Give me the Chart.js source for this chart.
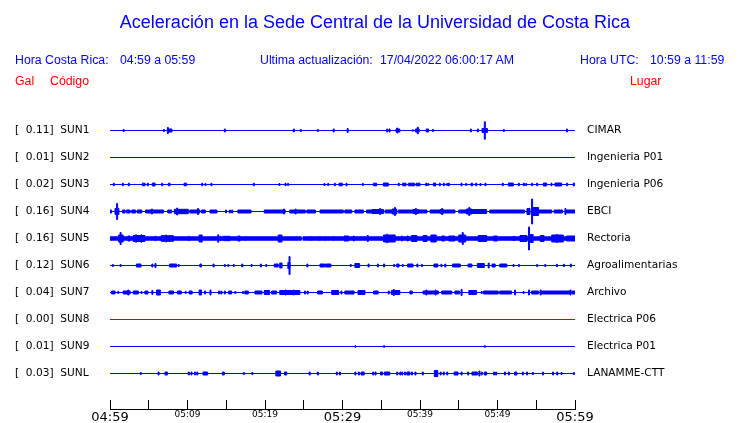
<!DOCTYPE html>
<html>
<head>
<meta charset="utf-8">
<script src="https://cdn.jsdelivr.net/npm/chart.js@4.4.0/dist/chart.umd.min.js"></script>
<style>
    body { margin: 0; background: #ffffff; }
    #wrap { position: relative; width: 740px; height: 423px; font-family: 'Liberation Sans', Arial, sans-serif; }
    #wrap canvas { position: absolute; left: 0; top: 0; }
    .t { position: absolute; white-space: pre; font-size: 12.3px; line-height: 14px; color: #0000ff; }
    .red { color: #ff0000; }
    #title { position: absolute; left: 5px; width: 740px; top: 12px; text-align: center; font-size: 18px; line-height: 20px; color: #0000ff; }
</style>
</head>
<body>
<div id="wrap">
    <canvas id="myChart" width="740" height="423"></canvas>
    <div id="title">Aceleración en la Sede Central de la Universidad de Costa Rica</div>
    <div class="t" style="left:15px;top:53px">Hora Costa Rica:</div>
    <div class="t" style="left:120px;top:53px">04:59 a 05:59</div>
    <div class="t" style="left:260px;top:53px">Ultima actualización:</div>
    <div class="t" style="left:380px;top:53px">17/04/2022 06:00:17 AM</div>
    <div class="t" style="left:580px;top:53px">Hora UTC:</div>
    <div class="t" style="left:650px;top:53px">10:59 a 11:59</div>
    <div class="t red" style="left:15px;top:74px">Gal</div>
    <div class="t red" style="left:50px;top:74px">Código</div>
    <div class="t red" style="left:630px;top:74px">Lugar</div>
</div>
<script>
const codes = ['SUN1', 'SUN2', 'SUN3', 'SUN4', 'SUN5', 'SUN6', 'SUN7', 'SUN8', 'SUN9', 'SUNL'];
const peaks = [0.11, 0.01, 0.02, 0.16, 0.16, 0.12, 0.04, 0.00, 0.01, 0.03];
const places = ['CIMAR', 'Ingenieria P01', 'Ingenieria P06', 'EBCI', 'Rectoria',
    'Agroalimentarias', 'Archivo', 'Electrica P06', 'Electrica P01', 'LANAMME-CTT'];
const timeLabels = ['04:59', '05:09', '05:19', '05:29', '05:39', '05:49', '05:59'];

// bursts per station: [minute, amplitude] for a single spike,
// [start minute, end minute, amplitude] for a longer burst
const sun1 = [[1.7, 1], [6.9, 1], [7.4, 3], [7.5, 8.0, 1.5], [14.75, 1.5], [23.65, 1.5], [24.56, 1],
    [26.75, 1], [28.8, 1.5], [30.6, 2], [35.7, 1.5], [36.0, 1.5], [36.9, 37.4, 1.5], [37.0, 2.5],
    [39.0, 0.7], [39.4, 39.9, 1.5], [39.65, 3.3], [40.8, 41.1, 1.5], [41.6, 1], [46.5, 1.5],
    [47.4, 1.5], [48.0, 48.7, 2], [48.3, 8.7], [50.75, 1], [58.9, 1.5]];
const sun2 = [];
const sun3 = [[0.43, 1.3], [1.59, 1.3], [2.37, 1.3], [4.17, 4.52, 1.3], [4.82, 1.3], [5.46, 5.81, 1.5],
    [6.67, 1.3], [7.53, 7.74, 1.3], [9.55, 9.89, 1.3], [11.83, 1.3], [12.26, 1], [13.03, 1.3],
    [18.49, 1.3], [21.81, 1], [22.58, 1.3], [22.92, 1], [27.61, 1], [28.09, 1], [28.95, 1.3],
    [29.55, 29.98, 1.3], [30.45, 1.3], [32.56, 1], [33.98, 34.41, 1.3], [35.27, 35.91, 1.5],
    [37.2, 1.3], [37.76, 38.2, 1.3], [38.5, 39.3, 1.3], [39.5, 40.0, 1.3], [40.73, 1.3], [40.99, 1],
    [41.72, 42.02, 1.5], [42.49, 1.3], [43.01, 1.3], [43.44, 1], [43.66, 1.3], [45.29, 1.3],
    [45.89, 1], [46.58, 46.8, 1.3], [47.18, 1.3], [47.74, 1], [48.39, 1.3], [50.62, 1.3],
    [51.4, 52.04, 1.5], [52.69, 1.3], [53.33, 1.3], [53.63, 1], [54.41, 1.3], [55.05, 1.3],
    [55.91, 56.34, 1.5], [56.9, 1.3], [57.42, 58.28, 1.5], [58.92, 1.3], [59.78, 1.5]];
const sun4 = [[0, 0.2, 1.5], [0.65, 1.15, 3], [0.85, 8], [1.6, 1.95, 1.5], [2.1, 2.6, 1.5],
    [2.8, 3.3, 1.5], [3.5, 4.1, 1.5], [4.6, 5.3, 1.5], [5.35, 2.5], [5.5, 6.9, 1.5], [7.45, 7.95, 1.5],
    [8.3, 10.1, 2.2], [8.6, 3.5], [10.3, 11.6, 1.5], [11.3, 3], [11.8, 12.3, 1.5], [12.9, 13.8, 1.5],
    [14.9, 1.5], [15.4, 1.5], [15.7, 1.5], [16.5, 18.2, 1.5], [19.9, 22.6, 1.5], [22.4, 2.5],
    [23.2, 25.2, 1.5], [23.9, 2.5], [25.4, 26.5, 1.5], [27.1, 30.1, 1.5], [30.3, 31.2, 1.5],
    [31.6, 32.7, 1.5], [33.1, 33.8, 1.5], [33.8, 35.3, 2], [34.8, 3], [35.5, 36.4, 1.5],
    [36.4, 37.0, 2.5], [36.7, 4], [37.2, 39.1, 1.5], [39.1, 39.8, 2], [39.4, 3], [39.8, 40.9, 1.5],
    [41.3, 42.6, 1.5], [42.6, 43.0, 2], [42.8, 3], [43.0, 44.5, 1.5], [45.0, 46.0, 1.5],
    [46.0, 46.7, 2.5], [46.3, 4], [46.7, 48.6, 2], [49.0, 53.5, 1.5], [53.8, 54.2, 3], [54.4, 12.5],
    [54.5, 55.3, 4], [55.3, 57.0, 1.5], [57.3, 58.4, 1.5], [58.7, 3], [58.9, 60, 1.5]];
const sun5 = [[0, 24.7, 1.7], [24.9, 60, 1.7], [1.1, 1.7, 3.5], [1.3, 6], [2.3, 2.6, 2.5], [3.0, 4.5, 3],
    [3.3, 3.7], [4.0, 3.7], [5.8, 2.2], [6.6, 8.2, 2.8], [7.2, 3.5], [10.1, 2.2], [11.5, 11.9, 3.5],
    [13.9, 3.7], [14.2, 2.2], [14.6, 15.5, 2.2], [16.5, 16.8, 2.5], [17.4, 2], [21.7, 22.2, 3.5],
    [25.8, 2], [26.9, 2], [27.7, 2], [28.8, 2], [30.2, 30.8, 2.5], [31.4, 2.5], [33.2, 3],
    [35.3, 36.8, 3.5], [35.7, 4.3], [37.6, 2.5], [38.3, 38.5, 2.5], [38.9, 39.6, 3], [40.4, 40.9, 3],
    [41.4, 42.1, 3.5], [42.8, 43.2, 2.5], [43.7, 44.5, 2.5], [45.0, 45.9, 3.5], [45.45, 6],
    [47.5, 48.6, 3], [49.5, 50.0, 2.5], [52.0, 52.3, 2], [52.9, 53.8, 3], [54.0, 11.5],
    [54.2, 54.6, 4], [55.5, 56.0, 3], [57.0, 58.5, 3.5], [57.6, 4], [58.9, 60, 2.5]];
const sun6 = [[0.3, 1], [1.3, 1], [3.4, 4.0, 1.5], [5.4, 1.5], [5.8, 2], [7.7, 8.6, 1.5], [8.8, 1],
    [11.6, 11.8, 1.5], [13.3, 1.5], [14.75, 1], [15.2, 1], [15.9, 1], [17.0, 1.5], [18.2, 1],
    [19.4, 1.5], [20.1, 1], [21.2, 21.7, 1.5], [21.9, 22.2, 2.5], [22.95, 23.25, 3], [23.1, 9],
    [25.4, 1.5], [27.1, 27.7, 1.5], [27.8, 28.5, 1.5], [31.0, 1], [31.6, 32.2, 2], [33.3, 1.5],
    [34.5, 1.5], [35.3, 1.5], [36.6, 1], [37.0, 37.3, 1.5], [37.7, 1], [38.4, 39.1, 1.5], [39.6, 1.5],
    [40.2, 1], [41.8, 42.3, 1.5], [42.7, 1.2], [43.2, 1.5], [44.2, 45.2, 1.5], [46.2, 46.7, 1.5],
    [47.4, 48.3, 2], [48.8, 2.5], [49.3, 49.7, 1.5], [50.3, 51.2, 1.5], [52.0, 1], [52.7, 1],
    [55.05, 1], [56.1, 1], [57.6, 1.2], [58.5, 1.2], [59.4, 1.5]];
const sun7 = [[0.2, 0.65, 1.5], [1.0, 1], [1.7, 2.6, 1.5], [2.3, 2.5], [3.0, 3.65, 1.5], [4.0, 1],
    [4.5, 4.9, 1.5], [5.4, 2], [6.0, 6.5, 2.5], [7.6, 8.2, 1.5], [8.7, 9.2, 1.5], [9.7, 1],
    [10.2, 10.6, 1.5], [11.5, 11.8, 2.5], [12.2, 1.5], [12.9, 2.5], [14.0, 1.5], [14.3, 1.5],
    [14.75, 1.5], [15.3, 15.7, 1.5], [16.1, 1], [17.1, 1], [17.4, 17.85, 1.5], [18.7, 19.6, 1.5],
    [19.9, 20.6, 2], [20.85, 21.5, 1.5], [21.9, 24.5, 2], [22.6, 2.5], [23.65, 2.5], [25.1, 1.5],
    [25.45, 1.5], [26.8, 27.4, 1.5], [28.6, 29.5, 2], [29.8, 1.5], [30.3, 31.5, 1.5], [32.0, 32.9, 2],
    [34.0, 34.6, 1.5], [35.9, 1.5], [36.3, 37.4, 2], [36.55, 3], [38.7, 39.0, 1.5], [40.4, 42.4, 1.5],
    [40.75, 2.5], [41.95, 2.5], [42.8, 44.1, 1.5], [44.5, 45.1, 1.5], [45.3, 3], [46.3, 47.3, 2],
    [47.9, 1], [48.2, 50.1, 1.5], [50.3, 51.8, 1.5], [52.2, 2.5], [53.3, 1], [54.0, 2.5],
    [54.4, 55.3, 1.5], [55.5, 2.5], [55.7, 59.4, 1.5], [59.35, 2.5], [59.6, 60, 1.5]];
const sun8 = [];
const sun9 = [[31.6, 0.8], [35.3, 0.8], [48.3, 0.8]];
const sunl = [[3.9, 1], [6.2, 1.5], [7.1, 7.4, 1.5], [10.1, 1.5], [10.45, 1.5], [10.9, 1.5], [11.2, 1.5],
    [12.0, 12.6, 1.5], [14.5, 14.75, 1.5], [17.2, 1], [18.3, 1], [21.4, 22.0, 2.5], [22.5, 22.8, 1.5],
    [25.7, 1.5], [26.75, 1.5], [29.2, 1.5], [29.6, 1.5], [31.6, 1.5], [32.05, 1.5], [32.4, 32.8, 1.5],
    [33.9, 1.5], [34.2, 1.5], [34.9, 35.15, 1.5], [35.4, 36.1, 1.5], [37.0, 1.5], [37.4, 1.5],
    [37.65, 1.5], [38.0, 1.5], [38.3, 38.7, 1.5], [38.9, 1.5], [39.35, 1.5], [40.3, 1.5],
    [41.85, 42.3, 3], [42.6, 1.5], [43.0, 1.5], [43.45, 1.5], [44.4, 44.9, 1.5], [45.3, 1.5],
    [46.15, 1.5], [46.7, 47.4, 1.5], [47.6, 2.5], [47.9, 1.5], [48.3, 48.6, 1.5], [49.5, 1.5],
    [49.75, 1.5], [50.9, 1.5], [51.4, 1.5], [52.2, 52.5, 1.5], [53.2, 1.5], [53.75, 1.5], [54.5, 1],
    [55.8, 1.5], [57.1, 1.5], [57.65, 1.5], [58.2, 1], [59.8, 1]];

const traces = [sun1, sun2, sun3, sun4, sun5, sun6, sun7, sun8, sun9, sunl];
const lineColors = ['#0000ff', '#0000ff', '#0000ff', '#0000ff', '#0000ff',
    '#0000ff', '#0000ff', '#dd0000', '#0000ff', '#0000ff'];

const spikeWidth = 0.13;   // minutes, about one pixel
const gain = 1 / 27;       // amplitude unit -> row spacing

// turn the burst list into a stepped envelope (max amplitude between cut points)
function envelope(events) {
    const ev = events.map(e => e.length === 2 ? [e[0], e[0] + spikeWidth, e[1]] : e);
    const cuts = [...new Set([0, 60].concat(...ev.map(e => [e[0], e[1]])))].sort((a, b) => a - b);
    return cuts.map(t => {
        let a = 0;
        ev.forEach(e => { if (e[0] <= t && t < e[1]) a = Math.max(a, e[2]); });
        return { x: t, a: a };
    });
}

const datasets = [];
traces.forEach((ev, i) => {
    const base = codes.length - i;
    const env = envelope(ev);
    const style = {
        borderColor: lineColors[i],
        backgroundColor: lineColors[i],
        borderWidth: 1,
        pointRadius: 0,
        stepped: true,
    };
    datasets.push(Object.assign({ data: env.map(p => ({ x: p.x, y: base + p.a * gain })), fill: false }, style));
    datasets.push(Object.assign({ data: env.map(p => ({ x: p.x, y: base - p.a * gain })), fill: '-1' }, style));
});

const rowTicks = s => { s.ticks = codes.map((c, i) => ({ value: codes.length - i })); };
const labelFont = { family: 'DejaVu Sans', size: 10.6 };
const yMin = 10 - (409 - 130.5) / 27;

const config = {
    type: 'line',
    data: { datasets: datasets },
    options: {
        responsive: false,
        animation: false,
        events: [],
        layout: { padding: { left: 15, top: 103.5, right: 0, bottom: 0 } },
        plugins: { legend: { display: false }, tooltip: { enabled: false } },
        scales: {
            x: {
                type: 'linear',
                min: 0,
                max: 60,
                afterFit: s => { s.height = 14; },
                afterBuildTicks: s => {
                    s.ticks = [];
                    for (let m = 0; m <= 60; m += 5) s.ticks.push({ value: m });
                },
                ticks: {
                    autoSkip: false,
                    maxRotation: 0,
                    padding: 9.7,
                    color: '#000000',
                    font: ctx => ({ family: 'DejaVu Sans', size: ctx.tick && ctx.tick.value % 30 === 0 ? 13 : 9 }),
                    callback: v => v % 10 === 0 ? timeLabels[v / 10] : '',
                },
                grid: { drawOnChartArea: false, tickLength: -9, color: '#000000' },
                border: { display: true, color: '#000000', width: 1 },
            },
            y: {
                min: yMin,
                max: 11,
                afterFit: s => { s.width = 95; s.paddingTop = 0; s.paddingBottom = 0; },
                afterBuildTicks: rowTicks,
                ticks: {
                    crossAlign: 'far',
                    color: '#000000',
                    font: labelFont,
                    callback: v => '[  ' + peaks[codes.length - v].toFixed(2) + ']  ' + codes[codes.length - v],
                },
                grid: { display: false, drawTicks: false },
                border: { display: false },
            },
            y2: {
                position: 'right',
                min: yMin,
                max: 11,
                afterFit: s => { s.width = 165; s.paddingTop = 0; s.paddingBottom = 0; },
                afterBuildTicks: rowTicks,
                ticks: {
                    crossAlign: 'near',
                    padding: 12,
                    color: '#000000',
                    font: labelFont,
                    callback: v => places[codes.length - v],
                },
                grid: { display: false, drawTicks: false },
                border: { display: false },
            },
        },
    },
};

const myChart = new Chart(document.getElementById('myChart'), config);
</script>
</body>
</html>
